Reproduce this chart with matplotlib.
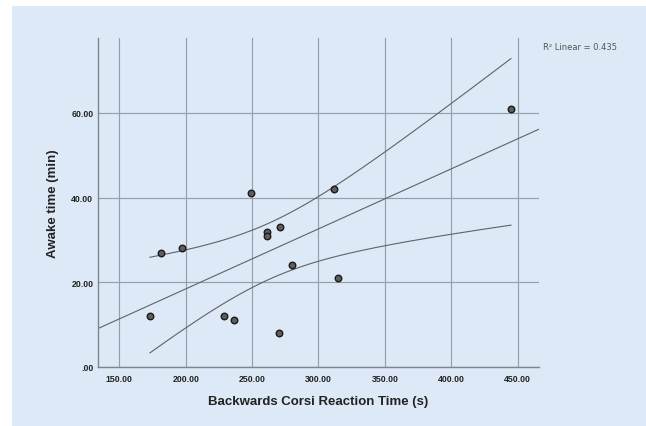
import numpy as np
import matplotlib
matplotlib.use("Agg")
from matplotlib import pyplot as plt
from matplotlib.patches import Rectangle

# reaction time (s) vs awake time (min)
rt = [173, 181, 197, 229, 236, 249, 261, 261, 271, 270, 280, 312, 315, 445]
awake = [12, 27, 28, 12, 11, 41, 32, 31, 33, 8, 24, 42, 21, 61]
xticks = [150, 200, 250, 300, 350, 400, 450]
yticks = [0, 20, 40, 60]

bg = "#dde9f6"
gridc = "#939fad"
linec = "#5f6368"
plt.rcParams["font.family"] = ["Liberation Sans", "DejaVu Sans"]

x = np.array(rt, dtype=float)
y = np.array(awake, dtype=float)
n = len(x)
b, a = np.polyfit(x, y, 1)
yhat = a + b * x
r2 = 1 - np.sum((y - yhat) ** 2) / np.sum((y - y.mean()) ** 2)
s = np.sqrt(np.sum((y - yhat) ** 2) / (n - 2))
t = 2.179  # t(0.975, df=12)

fig = plt.figure(figsize=(6.46, 4.27), dpi=100)
fig.patch.set_facecolor("white")
fig.patches.append(Rectangle((12 / 646, 0), 1, 1 - 7 / 427, transform=fig.transFigure,
                             facecolor=bg, edgecolor="none", zorder=-1))

ax = fig.add_axes([97.5 / 646, 1 - 368 / 427, (538.5 - 97.5) / 646, (368 - 39) / 427])
ax.set_facecolor(bg)
ax.set_xlim(133.5, 465.8)
ax.set_ylim(0, 77.7)

ax.set_xticks(xticks)
ax.set_yticks(yticks)
ax.set_xticklabels(["%.2f" % v for v in xticks])
ax.set_yticklabels([("%.2f" % v) if v else ".00" for v in yticks])
ax.tick_params(length=0, labelsize=6.3, colors="#222222", pad=3)
ax.tick_params(axis="x", pad=5)
for lab in ax.get_xticklabels() + ax.get_yticklabels():
    lab.set_fontweight("bold")
ax.grid(True, color=gridc, linewidth=0.85)
ax.set_axisbelow(True)
for side in ["top", "right"]:
    ax.spines[side].set_visible(False)
for side in ["left", "bottom"]:
    ax.spines[side].set_color("#7d8590")
    ax.spines[side].set_linewidth(1.0)

xs = np.linspace(133.5, 465.8, 200)
ax.plot(xs, a + b * xs, color=linec, linewidth=0.8)
xc = np.linspace(x.min(), x.max(), 200)
se = s * np.sqrt(1 / n + (xc - x.mean()) ** 2 / np.sum((x - x.mean()) ** 2))
ax.plot(xc, a + b * xc + t * se, color=linec, linewidth=0.8)
ax.plot(xc, a + b * xc - t * se, color=linec, linewidth=0.8)

ax.scatter(x, y, s=22, facecolor="#5e5e5e", edgecolor="#1a1a1a", linewidth=1.0, zorder=3)

ax.set_xlabel("Backwards Corsi Reaction Time (s)", fontsize=9.5, fontweight="bold",
              color="#222222", labelpad=9)
ax.set_ylabel("Awake time (min)", fontsize=9.5, fontweight="bold", color="#222222", labelpad=8.5)

fig.text(543 / 646, 1 - 47 / 427, "R\u00b2 Linear = %.3f" % r2, fontsize=6,
         family="DejaVu Sans", color="#555555", va="center")

fig.savefig("out.png", dpi=100, facecolor=fig.get_facecolor())
